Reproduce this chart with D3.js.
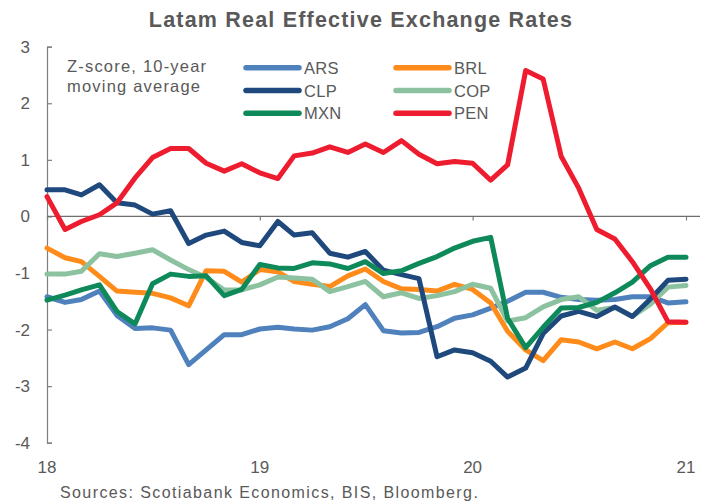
<!DOCTYPE html>
<html>
<head>
<meta charset="utf-8">
<script src="https://cdn.jsdelivr.net/npm/d3@7/dist/d3.min.js"></script>
<style>
  html, body { margin: 0; padding: 0; background: #fff; }
  svg { display: block; font-family: "Liberation Sans", Arial, sans-serif; }
</style>
</head>
<body>
<svg id="chart" width="709" height="504"></svg>
<script>
// Monthly REER z-scores, Jan 2018 – Jan 2021
const startMonth = new Date(2018, 0, 1);
const monthCount = 37;

const ARS = [-1.42,-1.52,-1.47,-1.32,-1.75,-1.98,-1.97,-2.01,-2.62,-2.36,-2.09,-2.09,-1.99,-1.96,-1.99,-2.01,-1.95,-1.81,-1.56,-2.02,-2.06,-2.05,-1.95,-1.80,-1.74,-1.62,-1.50,-1.34,-1.34,-1.43,-1.47,-1.48,-1.47,-1.42,-1.42,-1.53,-1.51];
const BRL = [-0.56,-0.73,-0.80,-1.06,-1.32,-1.34,-1.36,-1.44,-1.58,-0.96,-0.97,-1.16,-0.94,-0.98,-1.15,-1.20,-1.24,-1.05,-0.93,-1.15,-1.28,-1.29,-1.32,-1.20,-1.29,-1.53,-2.03,-2.36,-2.55,-2.18,-2.22,-2.34,-2.22,-2.34,-2.16,-1.88,-1.87];
const CLP = [0.47,0.47,0.38,0.56,0.24,0.20,0.04,0.10,-0.48,-0.33,-0.26,-0.46,-0.52,-0.09,-0.33,-0.29,-0.65,-0.72,-0.62,-0.95,-1.03,-1.10,-2.48,-2.36,-2.41,-2.56,-2.84,-2.68,-2.07,-1.76,-1.68,-1.77,-1.60,-1.77,-1.46,-1.13,-1.11];
const COP = [-1.02,-1.02,-0.97,-0.66,-0.71,-0.65,-0.59,-0.77,-0.94,-1.08,-1.30,-1.30,-1.21,-1.07,-1.09,-1.11,-1.33,-1.24,-1.15,-1.42,-1.35,-1.45,-1.40,-1.33,-1.20,-1.27,-1.85,-1.79,-1.60,-1.47,-1.42,-1.66,-1.61,-1.77,-1.55,-1.25,-1.22];
const MXN = [-1.48,-1.39,-1.30,-1.21,-1.68,-1.90,-1.19,-1.02,-1.06,-1.05,-1.40,-1.29,-0.85,-0.91,-0.92,-0.82,-0.84,-0.92,-0.80,-1.01,-0.96,-0.83,-0.71,-0.56,-0.44,-0.37,-1.80,-2.32,-1.96,-1.62,-1.61,-1.52,-1.35,-1.16,-0.87,-0.72,-0.72];
const PEN = [0.35,-0.23,-0.09,0.03,0.24,0.68,1.04,1.20,1.20,0.94,0.80,0.93,0.77,0.67,1.07,1.12,1.23,1.13,1.28,1.13,1.34,1.10,0.93,0.97,0.94,0.64,0.91,2.58,2.43,1.06,0.50,-0.23,-0.40,-0.80,-1.28,-1.86,-1.87];

const seriesNames = ["ARS", "BRL", "CLP", "COP", "MXN", "PEN"];
const seriesColors = ["#4F81BD", "#FF8C1A", "#1F497D", "#8CC2A0", "#0E8A5A", "#EE1C2F"];
const seriesValues = [ARS, BRL, CLP, COP, MXN, PEN];
// drawing order: later entries sit on top
const drawOrder = ["ARS", "BRL", "COP", "CLP", "MXN", "PEN"];

const yTicks = [3, 2, 1, 0, -1, -2, -3, -4];
const xTickYears = [2018, 2019, 2020, 2021];

const titleText = "Latam Real Effective Exchange Rates";
const unitLines = ["Z-score, 10-year", "moving average"];
const sourceText = "Sources: Scotiabank Economics, BIS, Bloomberg.";

const dates = d3.range(monthCount).map(i => d3.timeMonth.offset(startMonth, i));

const svg = d3.select("#chart");
const textColor = "#595959";
const axisColor = "#7f7f7f";

const x = d3.scaleTime()
  .domain([startMonth, d3.timeMonth.offset(startMonth, monthCount - 1)])
  .range([47, 686]);
const y = d3.scaleLinear().domain([-4, 3]).range([442.7, 46.7]);

// Title
svg.append("text")
  .attr("x", 361).attr("y", 26.5)
  .attr("text-anchor", "middle")
  .attr("font-size", 21.5).attr("font-weight", "bold")
  .attr("letter-spacing", 1.2)
  .attr("fill", textColor)
  .text(titleText);

// Left axis with inward ticks
const yAxis = d3.axisRight(y).tickValues(yTicks).tickSize(5).tickFormat("");
const gy = svg.append("g").attr("transform", "translate(47,0)").call(yAxis);
gy.select(".domain").attr("stroke", axisColor).attr("stroke-width", 1.2);
gy.selectAll(".tick line").attr("stroke", axisColor).attr("stroke-width", 1.2);

svg.append("g").selectAll("text")
  .data(yTicks).join("text")
  .attr("x", 30).attr("y", d => y(d) + 6)
  .attr("text-anchor", "end")
  .attr("font-size", 17).attr("fill", textColor)
  .text(d => d);

// Zero line with year ticks
const yearDates = xTickYears.map(yr => new Date(yr, 0, 1));
const xAxis = d3.axisBottom(x).tickValues(yearDates).tickSize(4).tickFormat("");
const gx = svg.append("g").attr("transform", `translate(0,${y(0)})`).call(xAxis);
gx.select(".domain").remove();
gx.selectAll(".tick line").attr("stroke", axisColor).attr("stroke-width", 1.2);
svg.append("line")
  .attr("x1", 47).attr("x2", 700)
  .attr("y1", y(0)).attr("y2", y(0))
  .attr("stroke", "#6e6e6e").attr("stroke-width", 1.3);

// Year labels along the bottom
svg.append("g").selectAll("text")
  .data(yearDates).join("text")
  .attr("x", d => x(d)).attr("y", 473)
  .attr("text-anchor", "middle")
  .attr("font-size", 17).attr("fill", textColor)
  .text(d3.timeFormat("%y"));

// Series lines
const line = d3.line()
  .x((d, i) => x(dates[i]))
  .y(d => y(d));

const lines = svg.append("g");
drawOrder.forEach(name => {
  const k = seriesNames.indexOf(name);
  lines.append("path")
    .datum(seriesValues[k])
    .attr("d", line)
    .attr("fill", "none")
    .attr("stroke", seriesColors[k])
    .attr("stroke-width", 5)
    .attr("stroke-linejoin", "round")
    .attr("stroke-linecap", "round");
});

// Unit note
svg.append("g").selectAll("text")
  .data(unitLines).join("text")
  .attr("x", 67).attr("y", (d, i) => 72 + i * 20)
  .attr("font-size", 16.5).attr("letter-spacing", 1.2)
  .attr("fill", textColor)
  .text(d => d);

// Legend: three rows, two columns
const legend = svg.append("g");
seriesNames.forEach((name, i) => {
  const col = i % 2, row = Math.floor(i / 2);
  const lx = 246 + col * 150, ly = 67.7 + row * 22.8;
  legend.append("line")
    .attr("x1", lx).attr("x2", lx + 53)
    .attr("y1", ly).attr("y2", ly)
    .attr("stroke", seriesColors[i]).attr("stroke-width", 5.5)
    .attr("stroke-linecap", "round");
  legend.append("text")
    .attr("x", lx + 58).attr("y", ly + 6)
    .attr("font-size", 16.5).attr("letter-spacing", 0.3)
    .attr("fill", textColor)
    .text(name);
});

// Source note
svg.append("text")
  .attr("x", 60).attr("y", 498)
  .attr("font-size", 16).attr("letter-spacing", 1.4)
  .attr("fill", textColor)
  .text(sourceText);
</script>
</body>
</html>
